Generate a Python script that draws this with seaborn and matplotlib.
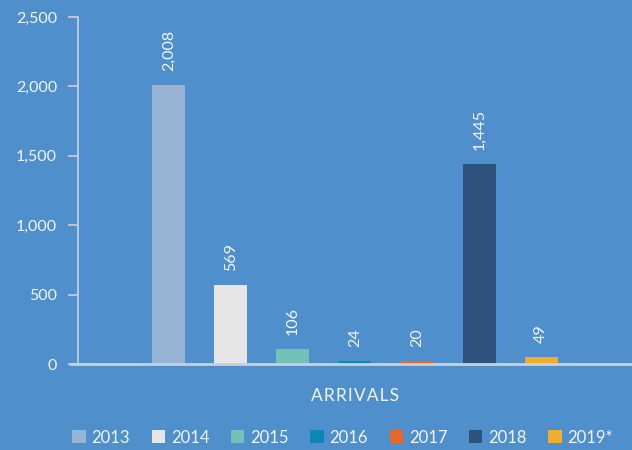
import pandas as pd
import matplotlib.pyplot as plt
import seaborn as sns

# --------------------------
# Data
# --------------------------
years = ['2013', '2014', '2015', '2016', '2017', '2018', '2019*']
arrivals = [2008, 569, 106, 24, 20, 1445, 49]
category = ['ARRIVALS'] * len(years)
colors = ['#97b4d5', '#e6e6e6', '#72c2b8', '#0a88b5', '#e8672a', '#2e527c', '#f0ae30']

df = pd.DataFrame({'category': category, 'year': years, 'arrivals': arrivals})

bg = '#4f8fcc'
txt = '#f4f6fa'

sns.set_style('white')
plt.rcParams['font.family'] = ['Lato', 'DejaVu Sans']

fig = plt.figure(figsize=(6.32, 4.5), dpi=100, facecolor=bg)
ax = fig.add_axes([0.1234, 0.191, 0.8766, 0.771])
ax.set_facecolor(bg)

sns.barplot(data=df, x='category', y='arrivals', hue='year', hue_order=years,
            palette=colors, width=0.8, gap=0.47, saturation=1, linewidth=0,
            ax=ax, legend=True)

for c in ax.containers:
    ax.bar_label(c, labels=[f'{v:,.0f}' for v in c.datavalues], rotation=90,
                 padding=10, color=txt, fontsize=11.5)

ax.set_xlim(-0.51, 0.51)
ax.set_ylim(0, 2500)
ax.set_yticks(range(0, 2501, 500))
ax.set_yticklabels([f'{v:,}' for v in range(0, 2501, 500)])
ax.tick_params(axis='y', colors='#d0d0d0', labelcolor=txt, labelsize=11.5,
               length=7, width=1.2, left=True, pad=8)
ax.tick_params(axis='x', length=0, labelsize=12.5, labelcolor=txt, pad=17)
ax.set_xticklabels(['\u200a'.join('ARRIVALS')])
ax.set_xlabel('')
ax.set_ylabel('')

for s in ['top', 'right', 'bottom']:
    ax.spines[s].set_visible(False)
ax.spines['left'].set_color('#d0d0d0')
ax.spines['left'].set_linewidth(1.2)
ax.axhline(0, xmin=-0.015, xmax=1, color='#d0d0d0', lw=2, clip_on=False, zorder=5)

ax.legend(loc='center', bbox_to_anchor=(0.478, -0.212), ncol=7, frameon=False,
          fontsize=12, labelcolor=txt, handlelength=0.8, handleheight=0.8,
          handletextpad=0.35, columnspacing=1.3, borderaxespad=0)

fig.savefig('out.png', dpi=100, facecolor=bg)
plt.close()
